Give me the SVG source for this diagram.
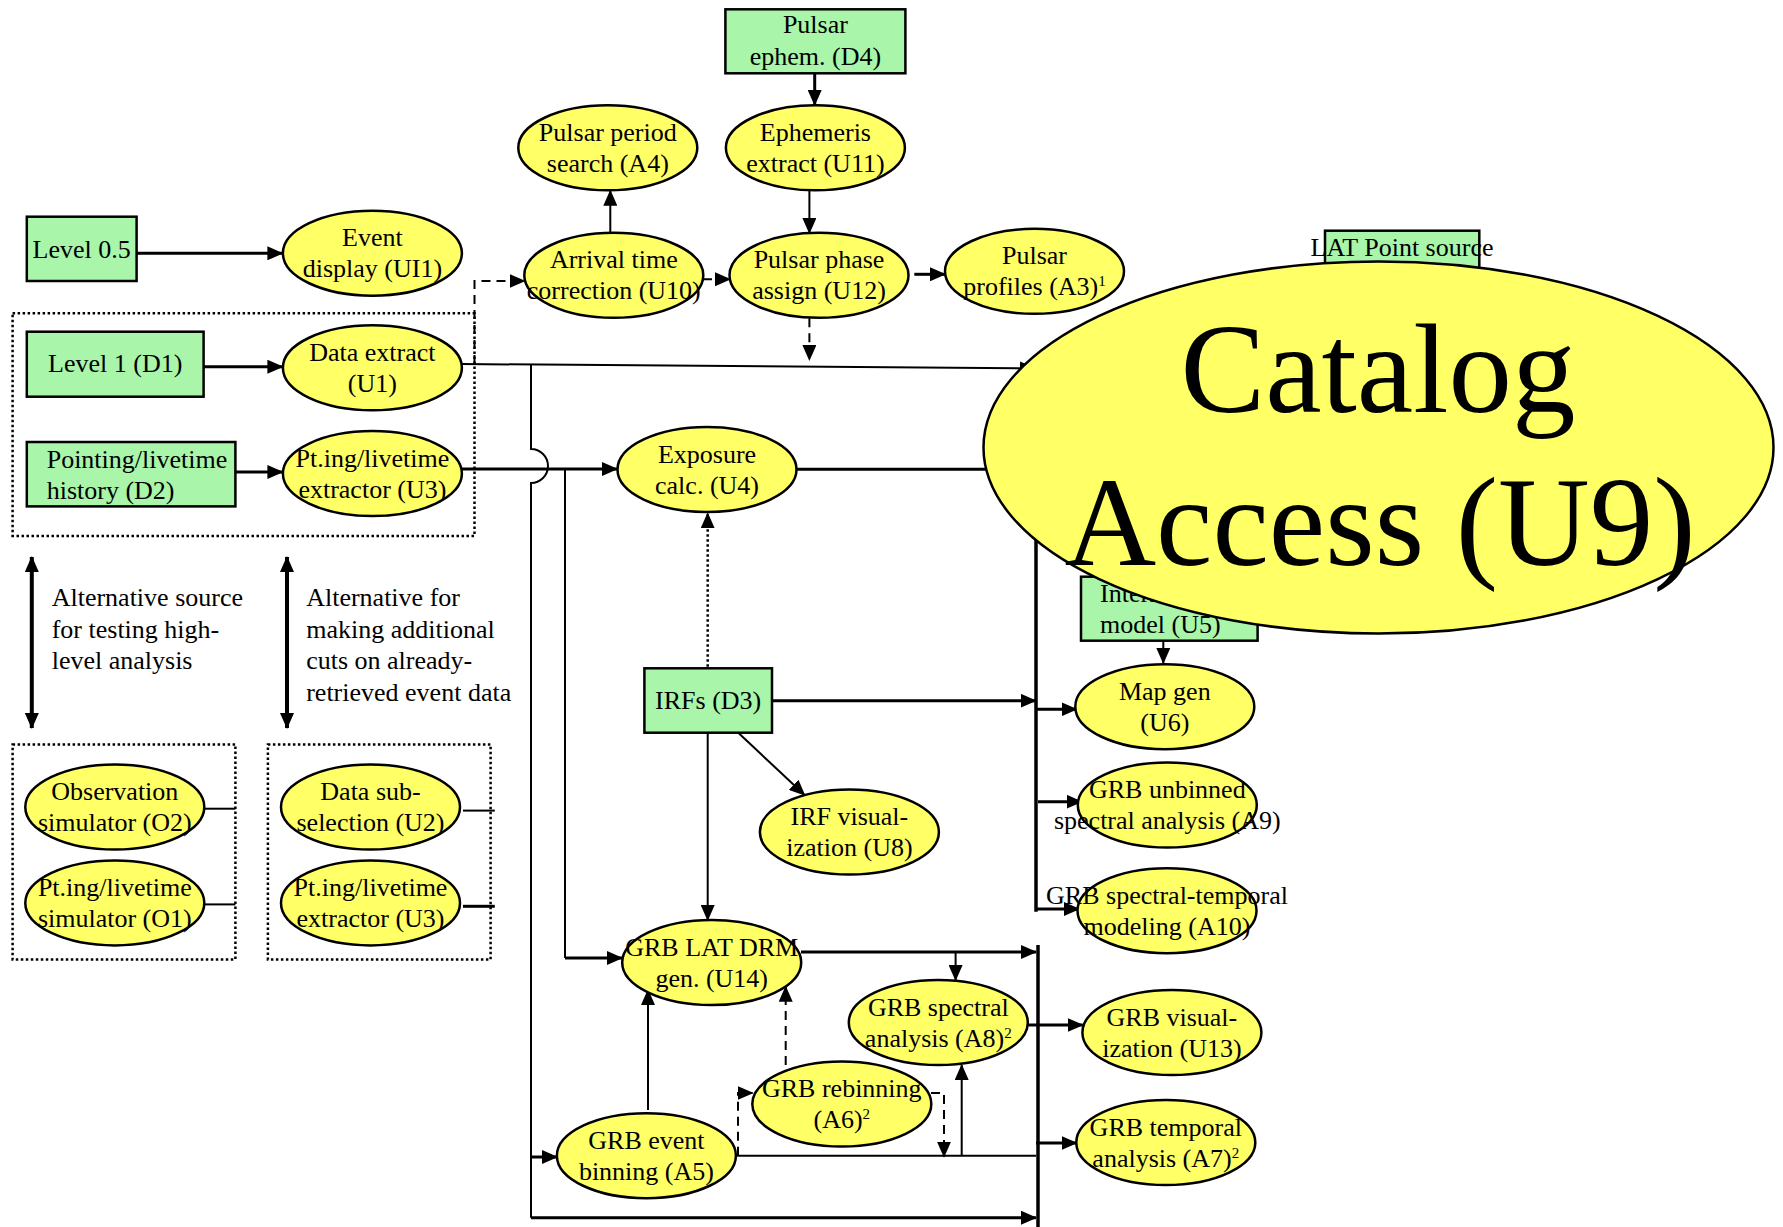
<svg xmlns="http://www.w3.org/2000/svg" width="1783" height="1227" viewBox="0 0 1783 1227">
<style>
.e{fill:#FFFF66;stroke:#000;stroke-width:2.5}
.r{fill:#A9F5A9;stroke:#000;stroke-width:2.5}
.t{font-family:"Liberation Serif","Times New Roman",serif;font-size:26px;text-anchor:middle;fill:#000}
.ts{text-anchor:start}
.a{font-family:"Liberation Serif","Times New Roman",serif;font-size:26px;fill:#000}
.big{font-family:"Liberation Serif","Times New Roman",serif;font-size:127px;text-anchor:middle;fill:#000}
.sup{font-size:15px}
.c{fill:none;stroke:#000;stroke-width:2}
.k{fill:none;stroke:#000;stroke-width:3}
.b{fill:none;stroke:#000;stroke-width:3.5}
.d{fill:none;stroke:#000;stroke-width:2;stroke-dasharray:9 6}
.o{fill:none;stroke:#000;stroke-width:2.5;stroke-dasharray:2.5 2.5}
.bx{fill:none;stroke:#000;stroke-width:2.5;stroke-dasharray:2.5 2.5}
.w{fill:none;stroke:#000;stroke-width:4}
</style>
<defs>
<marker id="ah" markerUnits="userSpaceOnUse" markerWidth="16" markerHeight="14" viewBox="0 0 16 14" refX="15" refY="7" orient="auto"><path d="M0,0 L16,7 L0,14 z" fill="#000"/></marker>
<marker id="ah2" markerUnits="userSpaceOnUse" markerWidth="16" markerHeight="14" viewBox="0 0 16 14" refX="15" refY="7" orient="auto-start-reverse"><path d="M0,0 L16,7 L0,14 z" fill="#000"/></marker>
</defs>

<g id="groups">
<rect class="bx" x="12.6" y="313.3" width="461.9" height="222.6"/>
<rect class="bx" x="12.6" y="744.4" width="222.8" height="215.1"/>
<rect class="bx" x="267.9" y="744.4" width="222.7" height="215.1"/>
</g>

<g id="connectors">
<path class="k" d="M814.7,73.3 V105" marker-end="url(#ah)"/>
<path class="c" d="M809.4,190.7 V233" marker-end="url(#ah)"/>
<path class="c" d="M610.3,232.3 V190.7" marker-end="url(#ah)"/>
<path class="d" d="M703,279.3 H730" marker-end="url(#ah)"/>
<path class="k" d="M914.3,274.3 H945" marker-end="url(#ah)"/>
<path class="d" d="M809.4,318.3 V360" marker-end="url(#ah)"/>
<path class="k" d="M136.6,253.3 H282.4" marker-end="url(#ah)"/>
<path class="k" d="M203.6,366.7 H282.4" marker-end="url(#ah)"/>
<path class="k" d="M235.4,472 H282.4" marker-end="url(#ah)"/>
<path class="d" d="M474.5,364 V281 H524.5" marker-end="url(#ah)"/>
<path class="c" d="M462,364 L1035,368.5" marker-end="url(#ah)"/>
<path class="c" d="M531,365 V449 A17,17 0 0 1 531,483 V1217.7"/>
<path class="k" d="M531,1217.7 H1036" marker-end="url(#ah)"/>
<path class="k" d="M531,1157 H557" marker-end="url(#ah)"/>
<path class="k" d="M462,469 H617" marker-end="url(#ah)"/>
<path class="c" d="M565,469 V958"/>
<path class="k" d="M565,958 H622" marker-end="url(#ah)"/>
<path class="k" d="M797,469.3 H1035"/>
<path class="o" d="M707.7,666.7 V513.3" marker-end="url(#ah)"/>
<path class="k" d="M772,700.7 H1035.7" marker-end="url(#ah)"/>
<path class="b" d="M1036,368 V911.7"/>
<path class="k" d="M1036,709.3 H1076.5" marker-end="url(#ah)"/>
<path class="c" d="M1163.3,640.7 V663" marker-end="url(#ah)"/>
<path class="k" d="M1038,801.7 H1081.6" marker-end="url(#ah)"/>
<path class="k" d="M1036,909 H1079" marker-end="url(#ah)"/>
<path class="c" d="M738.8,733.3 L804.6,795" marker-end="url(#ah)"/>
<path class="c" d="M707.7,732.7 V920" marker-end="url(#ah)"/>
<path class="k" d="M801,952 H1036" marker-end="url(#ah)"/>
<path class="c" d="M955.6,952 V980" marker-end="url(#ah)"/>
<path class="k" d="M1028,1025 H1082.6" marker-end="url(#ah)"/>
<path class="b" d="M1038,945 V1227"/>
<path class="c" d="M735.7,1155.7 H1036"/>
<path class="c" d="M961.7,1155.7 V1065" marker-end="url(#ah)"/>
<path class="d" d="M931,1093 H944 V1156.7" marker-end="url(#ah)"/>
<path class="d" d="M738,1155.7 V1093 H752.6" marker-end="url(#ah)"/>
<path class="d" d="M785.7,1065 V986.7" marker-end="url(#ah)"/>
<path class="c" d="M648,1110 V990" marker-end="url(#ah)"/>
<path class="k" d="M1036,1143 H1076.5" marker-end="url(#ah)"/>
<path class="c" d="M204.7,808.7 H235.4"/>
<path class="c" d="M204.7,904.4 H235.4"/>
<path class="c" d="M463,810.6 H494.8"/>
<path class="k" d="M463,906.3 H494.8"/>
<path class="w" d="M31.8,557 V728" marker-start="url(#ah2)" marker-end="url(#ah2)"/>
<path class="w" d="M287,557 V728" marker-start="url(#ah2)" marker-end="url(#ah2)"/>
</g>

<g id="notes">
<text class="a"><tspan x="51.7" y="606">Alternative source</tspan><tspan x="51.7" y="637.5">for testing high-</tspan><tspan x="51.7" y="669">level analysis</tspan></text>
<text class="a"><tspan x="306.2" y="606">Alternative for</tspan><tspan x="306.2" y="637.5">making additional</tspan><tspan x="306.2" y="669">cuts on already-</tspan><tspan x="306.2" y="700.5">retrieved event data</tspan></text>
</g>

<g id="D4"><rect class="r" x="725.4" y="9.3" width="180" height="64"/><text class="t"><tspan x="815.4" y="33.3">Pulsar</tspan><tspan x="815.4" y="65">ephem. (D4)</tspan></text></g>
<g id="A4"><ellipse class="e" cx="607.8" cy="147.8" rx="89.5" ry="42.5"/><text class="t"><tspan x="607.8" y="140.8">Pulsar period</tspan><tspan x="607.8" y="171.8">search (A4)</tspan></text></g>
<g id="U11"><ellipse class="e" cx="815.4" cy="147.8" rx="89.5" ry="42.5"/><text class="t"><tspan x="815.4" y="140.8">Ephemeris</tspan><tspan x="815.4" y="171.8">extract (U11)</tspan></text></g>
<g id="L05"><rect class="r" x="26.8" y="216.7" width="109.8" height="64.3"/><text class="t"><tspan x="81.7" y="258.3">Level 0.5</tspan></text></g>
<g id="UI1"><ellipse class="e" cx="372.4" cy="253.2" rx="89.5" ry="42.5"/><text class="t"><tspan x="372.4" y="246.2">Event</tspan><tspan x="372.4" y="277.2">display (UI1)</tspan></text></g>
<g id="U10"><ellipse class="e" cx="613.8" cy="275.3" rx="89.5" ry="42.5"/><text class="t"><tspan x="613.8" y="268.3">Arrival time</tspan><tspan x="613.8" y="299.3">correction (U10)</tspan></text></g>
<g id="U12"><ellipse class="e" cx="819" cy="275.3" rx="89.5" ry="42.5"/><text class="t"><tspan x="819" y="268.3">Pulsar phase</tspan><tspan x="819" y="299.3">assign (U12)</tspan></text></g>
<g id="A3"><ellipse class="e" cx="1034.5" cy="271.3" rx="89.5" ry="42.5"/><text class="t"><tspan x="1034.5" y="264.3">Pulsar</tspan><tspan x="1034.5" y="295.3">profiles (A3)<tspan class="sup" dy="-9">1</tspan></tspan></text></g>
<g id="D1"><rect class="r" x="26.8" y="331.7" width="176.8" height="65"/><text class="t"><tspan x="115.2" y="372.3">Level 1 (D1)</tspan></text></g>
<g id="U1"><ellipse class="e" cx="372.4" cy="367.8" rx="89.5" ry="42.5"/><text class="t"><tspan x="372.4" y="360.8">Data extract</tspan><tspan x="372.4" y="391.8">(U1)</tspan></text></g>
<g id="D2"><rect class="r" x="26.8" y="442" width="208.6" height="64.4"/><text class="t ts"><tspan x="46.7" y="468">Pointing/livetime</tspan><tspan x="46.7" y="498.7">history (D2)</tspan></text></g>
<g id="U3"><ellipse class="e" cx="372.4" cy="473.6" rx="89.5" ry="42.5"/><text class="t"><tspan x="372.4" y="466.6">Pt.ing/livetime</tspan><tspan x="372.4" y="497.6">extractor (U3)</tspan></text></g>
<g id="U4"><ellipse class="e" cx="707" cy="469.5" rx="89.5" ry="42.5"/><text class="t"><tspan x="707" y="462.5">Exposure</tspan><tspan x="707" y="493.5">calc. (U4)</tspan></text></g>
<g id="D3"><rect class="r" x="644.4" y="668.3" width="127.6" height="64.4"/><text class="t"><tspan x="708.2" y="709.3">IRFs (D3)</tspan></text></g>
<g id="U8"><ellipse class="e" cx="849.4" cy="832" rx="89.5" ry="42.5"/><text class="t"><tspan x="849.4" y="825">IRF visual-</tspan><tspan x="849.4" y="856">ization (U8)</tspan></text></g>
<g id="D5"><rect class="r" x="1325" y="230.7" width="154.3" height="70"/><text class="t"><tspan x="1402" y="256">LAT Point source</tspan></text></g>
<g id="U5"><rect class="r" x="1081" y="576.7" width="176.6" height="64"/><text class="t ts"><tspan x="1100" y="601.7">Interstellar</tspan><tspan x="1100" y="633.3">model (U5)</tspan></text></g>
<g id="U6"><ellipse class="e" cx="1164.8" cy="706.7" rx="89.5" ry="42.5"/><text class="t"><tspan x="1164.8" y="699.7">Map gen</tspan><tspan x="1164.8" y="730.7">(U6)</tspan></text></g>
<g id="A9"><ellipse class="e" cx="1167.3" cy="805" rx="89.5" ry="42.5"/><text class="t"><tspan x="1167.3" y="798">GRB unbinned</tspan><tspan x="1167.3" y="829">spectral analysis (A9)</tspan></text></g>
<g id="A10"><ellipse class="e" cx="1167" cy="910.7" rx="89.5" ry="42.5"/><text class="t"><tspan x="1167" y="903.7">GRB spectral-temporal</tspan><tspan x="1167" y="934.7">modeling (A10)</tspan></text></g>
<g id="O2"><ellipse class="e" cx="114.8" cy="807" rx="89.5" ry="42.5"/><text class="t"><tspan x="114.8" y="800">Observation</tspan><tspan x="114.8" y="831">simulator (O2)</tspan></text></g>
<g id="O1"><ellipse class="e" cx="114.8" cy="902.9" rx="89.5" ry="42.5"/><text class="t"><tspan x="114.8" y="895.9">Pt.ing/livetime</tspan><tspan x="114.8" y="926.9">simulator (O1)</tspan></text></g>
<g id="U2"><ellipse class="e" cx="370.5" cy="807" rx="89.5" ry="42.5"/><text class="t"><tspan x="370.5" y="800">Data sub-</tspan><tspan x="370.5" y="831">selection (U2)</tspan></text></g>
<g id="U3b"><ellipse class="e" cx="370.5" cy="902.9" rx="89.5" ry="42.5"/><text class="t"><tspan x="370.5" y="895.9">Pt.ing/livetime</tspan><tspan x="370.5" y="926.9">extractor (U3)</tspan></text></g>
<g id="U14"><ellipse class="e" cx="711.7" cy="962.5" rx="89.5" ry="42.5"/><text class="t"><tspan x="711.7" y="955.5">GRB LAT DRM</tspan><tspan x="711.7" y="986.5">gen. (U14)</tspan></text></g>
<g id="A8"><ellipse class="e" cx="938.3" cy="1022.5" rx="89.5" ry="42.5"/><text class="t"><tspan x="938.3" y="1015.5">GRB spectral</tspan><tspan x="938.3" y="1046.5">analysis (A8)<tspan class="sup" dy="-9">2</tspan></tspan></text></g>
<g id="A6"><ellipse class="e" cx="841.8" cy="1104" rx="89.5" ry="42.5"/><text class="t"><tspan x="841.8" y="1097">GRB rebinning</tspan><tspan x="841.8" y="1128">(A6)<tspan class="sup" dy="-9">2</tspan></tspan></text></g>
<g id="A5"><ellipse class="e" cx="646.4" cy="1155.7" rx="89.5" ry="42.5"/><text class="t"><tspan x="646.4" y="1148.7">GRB event</tspan><tspan x="646.4" y="1179.7">binning (A5)</tspan></text></g>
<g id="U13"><ellipse class="e" cx="1171.9" cy="1032.5" rx="89.5" ry="42.5"/><text class="t"><tspan x="1171.9" y="1025.5">GRB visual-</tspan><tspan x="1171.9" y="1056.5">ization (U13)</tspan></text></g>
<g id="A7"><ellipse class="e" cx="1165.8" cy="1142.5" rx="89.5" ry="42.5"/><text class="t"><tspan x="1165.8" y="1135.5">GRB temporal</tspan><tspan x="1165.8" y="1166.5">analysis (A7)<tspan class="sup" dy="-9">2</tspan></tspan></text></g>
<g id="U9"><ellipse class="e" cx="1378.5" cy="447.5" rx="395" ry="186"/><text class="big"><tspan x="1378" y="411.5">Catalog</tspan><tspan x="1380" y="565">Access (U9)</tspan></text></g>
</svg>
